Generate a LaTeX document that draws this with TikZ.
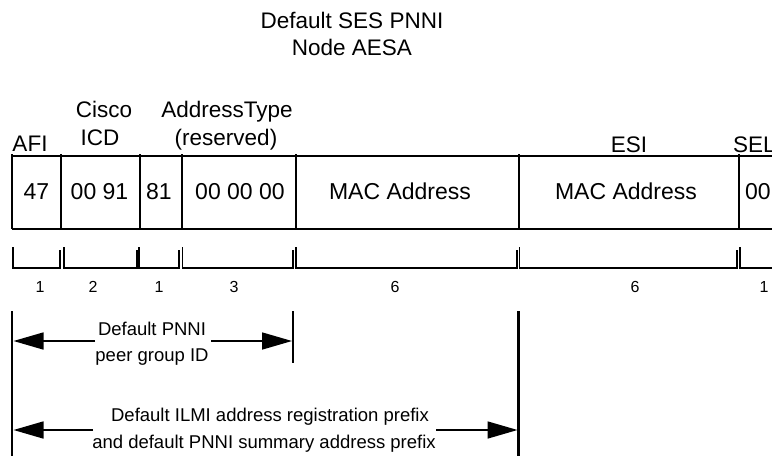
\documentclass[tikz,border=0pt]{standalone}
\usepackage{fontspec}
\setmainfont{Liberation Sans}
\usetikzlibrary{arrows.meta}
\begin{document}
\begin{tikzpicture}[x=1pt,y=-1pt,
  txt/.style={inner sep=0pt, anchor=base},
  big/.style={txt, font=\fontsize{22.5}{26}\selectfont},
  cell/.style={txt, font=\fontsize{23}{26}\selectfont},
  num/.style={txt, font=\fontsize{16}{18}\selectfont},
  note/.style={txt, font=\fontsize{18.5}{22}\selectfont},
  boxline/.style={line width=2pt},
  brace/.style={line width=1.6pt},
  marker/.style={line width=2.6pt},
  dim/.style={line width=1.6pt, -{Triangle[length=30pt,width=17pt]}}]
\useasboundingbox (0,0) rectangle (772,456);
% title
\node[big] (t1) at (352,28) {Default SES PNNI};
\node[big] (t2) at (352,55) {Node AESA};
% headers
\node[big] (hafi) at (30,151) {AFI};
\node[big] (hcis) at (104,117) {Cisco};
\node[big] (hicd) at (100,145) {ICD};
\node[big] (hat) at (227,117) {AddressType};
\node[big] (hres) at (226,145) {(reserved)};
\node[big] (hesi) at (629,152) {ESI};
\node[big, anchor=base west] (hsel) at (733,152) {SEL};
% box
\draw[boxline] (12,156) -- (772,156);
\draw[boxline] (12,229) -- (772,229);
\foreach \x in {12,61,140,182,296,519,739}
  \draw[boxline] (\x,154) -- (\x,229);
% cells
\node[cell] (c1) at (36.5,199) {47};
\node[cell] (c2) at (99.5,199) {00 91};
\node[cell] (c3) at (159,199) {81};
\node[cell] (c4) at (240,199) {00 00 00};
\node[cell] (c5) at (400,199) {MAC Address};
\node[cell] (c6) at (626,199) {MAC Address};
\node[cell, anchor=base west] (c7) at (745,199) {00};
% brackets
\foreach \a/\b in {13/60,64/137,139/179,182.5/293,296/517,519.5/737}
  \draw[brace] (\a,247) -- (\a,268) -- (\b,268) -- (\b,250);
\draw[brace] (740,247) -- (740,268) -- (772,268);
% byte counts
\node[num] (n1) at (40,292) {1};
\node[num] (n2) at (93,292) {2};
\node[num] (n3) at (159,292) {1};
\node[num] (n4) at (234,292) {3};
\node[num] (n5) at (395,292) {6};
\node[num] (n6) at (635,292) {6};
\node[num] (n7) at (764,292) {1};
% markers
\coordinate (mLt) at (12,311);   \coordinate (mLb) at (12,456);
\coordinate (mMt) at (293,311);  \coordinate (mMb) at (293,363);
\coordinate (mRt) at (518.5,311);\coordinate (mRb) at (518.5,456);
\draw[marker] (mLt) -- (mLb);
\draw[marker] (mMt) -- (mMb);
\draw[marker] (mRt) -- (mRb);
% arrow 1
\node[note] (p1) at (152,335) {Default PNNI};
\node[note] (p2) at (152,361) {peer group ID};
\coordinate (a1l) at (95,341);  \coordinate (a1lt) at (13.5,341);
\coordinate (a1r) at (211,341); \coordinate (a1rt) at (292,341);
\draw[dim] (a1l) -- (a1lt);
\draw[dim] (a1r) -- (a1rt);
% arrow 2
\node[note] (q1) at (270,421) {Default ILMI address registration prefix};
\node[note] (q2) at (264,448) {and default PNNI summary address prefix};
\coordinate (a2l) at (93,430);  \coordinate (a2lt) at (13.5,430);
\coordinate (a2r) at (436,430); \coordinate (a2rt) at (517.5,430);
\draw[dim] (a2l) -- (a2lt);
\draw[dim] (a2r) -- (a2rt);
\end{tikzpicture}
\end{document}
